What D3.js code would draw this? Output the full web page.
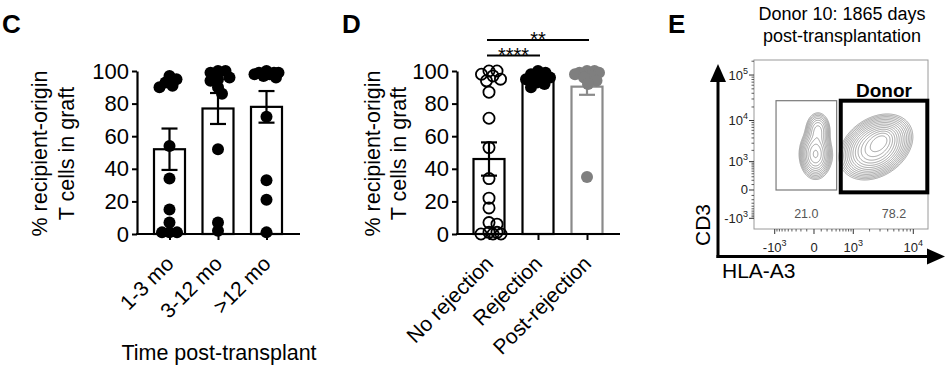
<!DOCTYPE html>
<html><head><meta charset="utf-8">
<script src="https://cdn.jsdelivr.net/npm/d3@7"></script>
<style>
body{margin:0;background:#fff}
svg{display:block}
text{font-family:"Liberation Sans",Arial,Helvetica,sans-serif}
</style>
</head><body>
<svg id="fig" width="948" height="384"></svg>
<script>
// ---------- Panel C data ----------
const cCategories = ["1-3 mo", "3-12 mo", ">12 mo"];
const cMeans = [52, 77, 78];
const cSEM = [12.7, 9.5, 9.7];
const cPoints1 = [97, 95, 93, 91, 90, 54, 34, 15, 7, 1, 1, 1];
const cPoints2 = [100, 100, 99, 96, 95, 94, 90, 86, 52, 7, 2];
const cPoints3 = [100, 99, 99, 99, 98, 98, 97, 96, 72, 33, 21, 1];
const yTickValues = [0, 20, 40, 60, 80, 100];
const yLabelLines = ["% recipient-origin", "T cells in graft"];
const cXTitle = "Time post-transplant";

// ---------- Panel D data ----------
const dCategories = ["No rejection", "Rejection", "Post-rejection"];
const dMeans = [46, 95.5, 90.4];
const dSEM = [10.2, 1.5, 5];
const dPoints1 = [100, 100, 98, 97, 95, 94, 87, 71, 53, 34, 22, 16, 7, 6, 1, 1, 0, 0, 0];
const dPoints2 = [100, 99, 98, 97, 96, 95, 93, 92, 90];
const dPoints3 = [100, 100, 99, 99, 98, 97, 96, 94, 92, 35];
const dSignifLabels = ["****", "**"];
const dSignifFrom = [0, 0];
const dSignifTo = [1, 2];
const dSignifLevel = [109.5, 119];

// ---------- Panel E data ----------
const eTitle = ["Donor 10: 1865 days", "post-transplantation"];
const eXTickValues = [-1000, 0, 1000, 10000];
const eYTickValues = [-1000, 0, 1000, 10000, 100000];
const eGateNames = ["Recipient", "Donor"];
const eGateX0 = [-940, 530];
const eGateX1 = [415, 16270];
const eGateY0 = [0, -40];
const eGateY1 = [27500, 27500];
const eGateFreq = ["21.0", "78.2"];
// population components: centre (x,y in fluorescence units), weight
const ePopX = [20, 52, 2570, 3190];
const ePopY = [1600, 6100, 2430, 3580];
const ePopW = [0.30, 0.12, 0.75, 0.35];

// ---------- styles ----------
const svg = d3.select("#fig");
const BLACK = "#000";
const GREY = "#8a8a8a";

function swarm(values, cx, y, dmin, maxOff) {
  const placed = [];
  const order = values.map((v, i) => i).sort((a, b) => values[b] - values[a]);
  order.forEach(i => {
    const py = y(values[i]);
    let best = 0, bestD = -1, chosen = null;
    for (let k = 0; ; k++) {
      const cand = (k % 2 === 1 ? 1 : -1) * Math.ceil(k / 2) * 0.5;
      if (Math.abs(cand) > maxOff) break;
      const md = placed.length ? d3.min(placed, p => Math.hypot(p.x - (cx + cand), p.y - py)) : Infinity;
      if (md >= dmin) { chosen = cand; break; }
      if (md > bestD) { bestD = md; best = cand; }
    }
    if (chosen === null) chosen = best;
    placed.push({ x: cx + chosen, y: py, v: values[i] });
  });
  return placed;
}

function barPanel(cfg) {
  const y = d3.scaleLinear().domain([0, 100]).range([234, 71]);
  const x = d3.scalePoint().domain(cfg.categories).range(cfg.xRange).padding(0.5);
  const g = svg.append("g");
  const bw = 31;

  g.selectAll("rect.bar").data(cfg.means).join("rect")
    .attr("x", (d, i) => x(cfg.categories[i]) - bw / 2)
    .attr("y", d => y(d))
    .attr("width", bw)
    .attr("height", d => y(0) - y(d))
    .attr("fill", "#fff")
    .attr("stroke", (d, i) => cfg.colors[i])
    .attr("stroke-width", 2.2);

  cfg.means.forEach((m, i) => {
    const cx = x(cfg.categories[i]);
    const col = cfg.colors[i];
    const s = cfg.sem[i];
    g.append("line").attr("x1", cx).attr("x2", cx).attr("y1", y(m - s)).attr("y2", y(m + s))
      .attr("stroke", col).attr("stroke-width", 2.2);
    [m - s, m + s].forEach(v => g.append("line").attr("x1", cx - 8).attr("x2", cx + 8)
      .attr("y1", y(v)).attr("y2", y(v)).attr("stroke", col).attr("stroke-width", 2.2));
  });

  cfg.points.forEach((vals, i) => {
    const pts = swarm(vals, x(cfg.categories[i]), y, cfg.open[i] ? 8 : 7.5, 12);
    g.selectAll(null).data(pts).join("circle")
      .attr("cx", d => d.x).attr("cy", d => d.y)
      .attr("r", cfg.open[i] ? 5.6 : 6)
      .attr("fill", cfg.open[i] ? "none" : cfg.dotColors[i])
      .attr("stroke", cfg.open[i] ? BLACK : "none")
      .attr("stroke-width", 1.8);
  });

  const ya = g.append("g").attr("transform", `translate(${cfg.axisX},0)`)
    .call(d3.axisLeft(y).tickValues(yTickValues).tickSize(5).tickSizeOuter(0).tickPadding(3));
  ya.select(".domain").attr("stroke-width", 2.2);
  ya.selectAll(".tick line").attr("stroke-width", 2);
  ya.selectAll("text").attr("font-size", 22).attr("fill", BLACK)
    .style("font-family", '"Liberation Sans",Arial,sans-serif');

  g.append("line").attr("x1", cfg.axisX - 1).attr("x2", cfg.axisEnd).attr("y1", y(0)).attr("y2", y(0))
    .attr("stroke", BLACK).attr("stroke-width", 2.2);
  const xa = g.append("g").attr("transform", `translate(0,${y(0)})`)
    .call(d3.axisBottom(x).tickSize(6).tickSizeOuter(0));
  xa.select(".domain").remove();
  xa.selectAll(".tick line").attr("stroke-width", 2);
  xa.selectAll("text")
    .attr("font-size", 21).attr("fill", BLACK)
    .style("font-family", '"Liberation Sans",Arial,sans-serif')
    .attr("text-anchor", "end")
    .attr("y", 0).attr("dy", 0)
    .attr("transform", "translate(5,31) rotate(-45)");

  yLabelLines.forEach((t, k) => {
    g.append("text").attr("transform", `translate(${cfg.yLabelX[k]},153.5) rotate(-90)`)
      .attr("text-anchor", "middle").attr("font-size", 21.5).text(t);
  });

  g.append("text").attr("x", cfg.letterX).attr("y", 33).attr("font-size", 26)
    .attr("font-weight", "bold").text(cfg.letter);
  return { x, y, g };
}

const C = barPanel({
  categories: cCategories, means: cMeans, sem: cSEM,
  points: [cPoints1, cPoints2, cPoints3],
  open: [false, false, false],
  colors: [BLACK, BLACK, BLACK], dotColors: [BLACK, BLACK, BLACK],
  xRange: [145.25, 290.75], axisX: 137, axisEnd: 300,
  yLabelX: [47, 73.5], letter: "C", letterX: 2
});
C.g.append("text").attr("x", 219).attr("y", 360).attr("text-anchor", "middle")
  .attr("font-size", 21.5).text(cXTitle);

const D = barPanel({
  categories: dCategories, means: dMeans, sem: dSEM,
  points: [dPoints1, dPoints2, dPoints3],
  open: [true, false, false],
  colors: [BLACK, BLACK, GREY], dotColors: [BLACK, BLACK, "#7f7f7f"],
  xRange: [464.5, 611.5], axisX: 457, axisEnd: 620,
  yLabelX: [380, 405.5], letter: "D", letterX: 342
});
dSignifLabels.forEach((lab, k) => {
  const x0 = D.x(dCategories[dSignifFrom[k]]) - 2;
  const x1 = D.x(dCategories[dSignifTo[k]]) + 2;
  const yy = D.y(dSignifLevel[k]);
  D.g.append("line").attr("x1", x0).attr("x2", x1).attr("y1", yy).attr("y2", yy)
    .attr("stroke", BLACK).attr("stroke-width", 2);
  D.g.append("text").attr("x", (x0 + x1) / 2).attr("y", yy + 6).attr("text-anchor", "middle")
    .attr("font-size", 20).text(lab);
});

// ---------- Panel E ----------
const eg = svg.append("g");
const ex = d3.scaleSymlog().constant(360).domain([-2380, 16670]).range([754, 928]);
const ey = d3.scaleSymlog().constant(320).domain([-1930, 212500]).range([229, 60]);
const fx0 = ex.range()[0], fx1 = ex.range()[1], fy0 = ey.range()[1], fy1 = ey.range()[0];

eg.append("text").attr("x", 668).attr("y", 33).attr("font-size", 26).attr("font-weight", "bold").text("E");
eTitle.forEach((t, k) => eg.append("text").attr("x", 842).attr("y", 20 + k * 22)
  .attr("text-anchor", "middle").attr("font-size", 18).text(t));

const compShape = [
  { sa: 6.5, sb: 10, rot: 0 },
  { sa: 5.5, sb: 8, rot: 0 },
  { sa: 14, sb: 10, rot: 35 },
  { sa: 7, sb: 5, rot: 35 }
];
const W = Math.round(fx1 - fx0), H = Math.round(fy1 - fy0);
const vals = new Float64Array(W * H);
const comps = ePopX.map((px, i) => ({ cx: ex(px) - fx0, cy: ey(ePopY[i]) - fy0, w: ePopW[i], ...compShape[i] }));
for (let j = 0; j < H; j++) {
  for (let i = 0; i < W; i++) {
    let s = 0;
    comps.forEach(c => {
      const a = c.rot * Math.PI / 180;
      const dx = i + 0.5 - c.cx, dy = j + 0.5 - c.cy;
      const u = dx * Math.cos(a) - dy * Math.sin(a);
      const v = dx * Math.sin(a) + dy * Math.cos(a);
      s += c.w * Math.exp(-0.5 * (u * u / (c.sa * c.sa) + v * v / (c.sb * c.sb)));
    });
    vals[j * W + i] = s;
  }
}
const levels = d3.range(15).map(k => 0.012 * Math.pow(1.0 / 0.012, k / 14));
const contours = d3.contours().size([W, H]).thresholds(levels)(vals);
eg.append("g").attr("transform", `translate(${fx0},${fy0})`)
  .selectAll("path").data(contours).join("path")
  .attr("d", d3.geoPath())
  .attr("fill", "none").attr("stroke", "#6a6a6a").attr("stroke-width", 0.6);

eg.append("rect").attr("x", fx0).attr("y", fy0).attr("width", fx1 - fx0).attr("height", fy1 - fy0)
  .attr("fill", "none").attr("stroke", "#9a9a9a").attr("stroke-width", 1);

eGateNames.forEach((n, i) => {
  eg.append("rect").attr("x", ex(eGateX0[i])).attr("y", ey(eGateY1[i]))
    .attr("width", ex(eGateX1[i]) - ex(eGateX0[i])).attr("height", ey(eGateY0[i]) - ey(eGateY1[i]))
    .attr("fill", "none").attr("stroke", i === 1 ? BLACK : "#7a7a7a").attr("stroke-width", i === 1 ? 4 : 1.2);
  eg.append("text").attr("x", (ex(eGateX0[i]) + ex(eGateX1[i])) / 2 + (i === 1 ? 10 : 0)).attr("y", 218)
    .attr("text-anchor", "middle").attr("font-size", 12.5).attr("fill", "#555").text(eGateFreq[i]);
});
eg.append("text").attr("x", (ex(eGateX0[1]) + ex(eGateX1[1])) / 2).attr("y", ey(eGateY1[1]) - 4)
  .attr("text-anchor", "middle").attr("font-size", 19).attr("font-weight", "bold").text("Donor");

const minorVals = [].concat(d3.range(-900, 0, 100), d3.range(100, 1000, 100),
  d3.range(2000, 10000, 1000), d3.range(20000, 100000, 10000), [200000]);
const xMinor = minorVals.filter(v => v > ex.domain()[0] && v < ex.domain()[1]);
const yMinor = minorVals.filter(v => v > ey.domain()[0] && v < ey.domain()[1]);
eg.selectAll(null).data(xMinor).join("line")
  .attr("x1", d => ex(d)).attr("x2", d => ex(d)).attr("y1", fy1).attr("y2", fy1 + 2.5)
  .attr("stroke", "#333").attr("stroke-width", 0.8);
eg.selectAll(null).data(eXTickValues).join("line")
  .attr("x1", d => ex(d)).attr("x2", d => ex(d)).attr("y1", fy1).attr("y2", fy1 + 5)
  .attr("stroke", "#333").attr("stroke-width", 1);
eg.selectAll(null).data(yMinor).join("line")
  .attr("y1", d => ey(d)).attr("y2", d => ey(d)).attr("x1", fx0).attr("x2", fx0 - 2.5)
  .attr("stroke", "#333").attr("stroke-width", 0.8);
eg.selectAll(null).data(eYTickValues).join("line")
  .attr("y1", d => ey(d)).attr("y2", d => ey(d)).attr("x1", fx0).attr("x2", fx0 - 5)
  .attr("stroke", "#333").attr("stroke-width", 1);

function powLabel(sel, v) {
  if (v === 0) { sel.append("tspan").text("0"); return; }
  const e = Math.round(Math.log10(Math.abs(v)));
  sel.append("tspan").text((v < 0 ? "-" : "") + "10");
  sel.append("tspan").attr("font-size", 9).attr("dy", -6).text(String(e));
}
eXTickValues.forEach(v => {
  const t = eg.append("text").attr("x", ex(v)).attr("y", 252).attr("text-anchor", "middle")
    .attr("font-size", 13).attr("fill", "#222");
  powLabel(t, v);
});
eYTickValues.forEach(v => {
  const t = eg.append("text").attr("x", fx0 - 6).attr("y", ey(v) + 4.5).attr("text-anchor", "end")
    .attr("font-size", 13).attr("fill", "#222");
  powLabel(t, v);
});

eg.append("line").attr("x1", 718).attr("x2", 718).attr("y1", 258).attr("y2", 78)
  .attr("stroke", BLACK).attr("stroke-width", 3);
eg.append("path").attr("d", "M710,82 L726,82 L718,64 Z").attr("fill", BLACK);
eg.append("line").attr("x1", 716.5).attr("x2", 930).attr("y1", 256.5).attr("y2", 256.5)
  .attr("stroke", BLACK).attr("stroke-width", 3);
eg.append("path").attr("d", "M927,248.5 L927,264.5 L945,256.5 Z").attr("fill", BLACK);
eg.append("text").attr("transform", "translate(710,225) rotate(-90)").attr("text-anchor", "middle")
  .attr("font-size", 21).text("CD3");
eg.append("text").attr("x", 722).attr("y", 278).attr("font-size", 21).text("HLA-A3");
</script>
</body></html>
